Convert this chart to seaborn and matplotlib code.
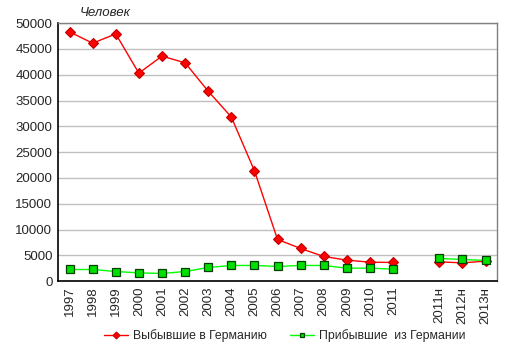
import numpy as np
import pandas as pd
import matplotlib
matplotlib.use('Agg')
import matplotlib.pyplot as plt
from matplotlib.lines import Line2D
import seaborn as sns

# категории (пустая позиция = разрыв между фактом и прогнозом)
years = ['1997', '1998', '1999', '2000', '2001', '2002', '2003', '2004', '2005',
         '2006', '2007', '2008', '2009', '2010', '2011', '', '2011н', '2012н', '2013н']
left_de = [48300, 46100, 47900, 40300, 43600, 42300, 36800, 31800, 21400,
           8080, 6330, 4780, 4070, 3680, 3620, None, 3740, 3550, 3880]
came_de = [2260, 2260, 1870, 1610, 1490, 1870, 2650, 3040, 3040,
           2850, 3040, 3040, 2520, 2520, 2330, None, 4400, 4200, 4010]

sns.set_style('white')
plt.rcParams['font.family'] = ['Liberation Sans', 'DejaVu Sans']

fig = plt.figure(figsize=(5.13, 3.55), dpi=100)
ax = fig.add_axes([0.113, 0.208, 0.856, 0.727])


def to_df(vals):
    d = pd.DataFrame({'pos': np.arange(len(years)), 'val': pd.array(vals, dtype='Float64')})
    d['part'] = d['val'].isna().cumsum()
    d = d.dropna().copy()
    d['val'] = d['val'].astype(float)
    return d


red_style = dict(color='#ff0000', linewidth=1, marker='D', markeredgewidth=0.8,
                 markerfacecolor='#ff0000', markeredgecolor='#c00000')
green_style = dict(color='#00ff00', linewidth=1, marker='s', markeredgewidth=0.9,
                   markerfacecolor='#00e000', markeredgecolor='#004000')

sns.lineplot(data=to_df(left_de), x='pos', y='val', units='part', estimator=None,
             markersize=5.5, ax=ax, legend=False, zorder=3, **red_style)
sns.lineplot(data=to_df(came_de), x='pos', y='val', units='part', estimator=None,
             markersize=6, ax=ax, legend=False, zorder=3, **green_style)

ax.set_xlim(-0.5, len(years) - 0.5)
ax.set_ylim(0, 50000)
ax.set_yticks(range(0, 50001, 5000))
ax.set_xticks(range(len(years)))
ax.set_xticklabels(years, rotation=90, fontsize=9.5)
ax.tick_params(axis='y', labelsize=9.5, length=0, pad=4)
ax.tick_params(axis='x', length=0, pad=4)
ax.set_xlabel('')
ax.set_ylabel('')
ax.grid(True, axis='y', color='#c0c0c0', linewidth=1)
ax.set_axisbelow(True)
for s in ['left', 'bottom']:
    ax.spines[s].set_color('black')
    ax.spines[s].set_linewidth(1.2)
for s in ['top', 'right']:
    ax.spines[s].set_color('#808080')
    ax.spines[s].set_linewidth(1)

fig.text(0.156, 0.963, 'Человек', fontsize=9.5, style='italic', ha='left', va='center')

handles = [Line2D([], [], markersize=3.5, **red_style),
           Line2D([], [], markersize=3.5, **green_style)]
labels = ['Выбывшие в Германию', 'Прибывшие  из Германии']
fig.legend(handles, labels, loc='center', bbox_to_anchor=(0.555, 0.055),
           ncol=2, frameon=False, fontsize=8.8, handlelength=2.0, columnspacing=1.9,
           handletextpad=0.4)

fig.savefig('out.png', dpi=100)
